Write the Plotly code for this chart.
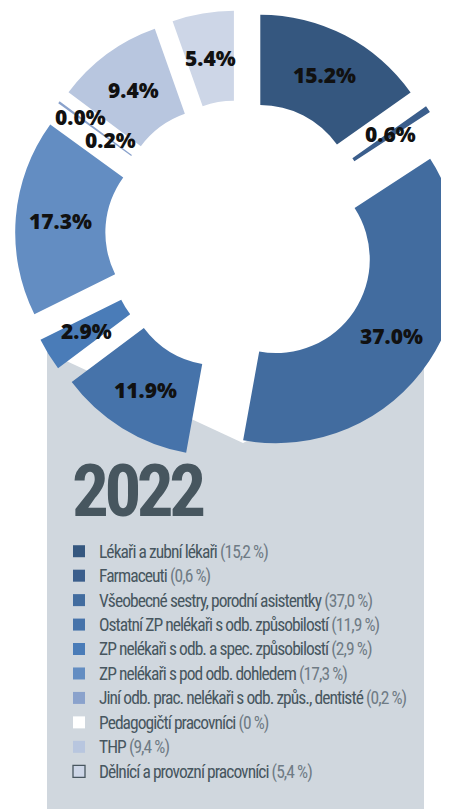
import math
import plotly.graph_objects as go

# ---------------- data ----------------
categories = [
    "Lékaři a zubní lékaři",
    "Farmaceuti",
    "Všeobecné sestry, porodní asistentky",
    "Ostatní ZP nelékaři s odb. způsobilostí",
    "ZP nelékaři s odb. a spec. způsobilostí",
    "ZP nelékaři s pod odb. dohledem",
    "Jiní odb. prac. nelékaři s odb. způs., dentisté",
    "Pedagogičtí pracovníci",
    "THP",
    "Dělnící a provozní pracovníci",
]
shares = [15.2, 0.6, 37.0, 11.9, 2.9, 17.3, 0.2, 0.0, 9.4, 5.4]
year = "2022"

# ---------------- style ----------------
slice_colors = ["#35577f", "#3b5e8c", "#426c9f", "#4673aa", "#4a7cb8",
                "#638dc2", "#8aa2cc", "#ffffff", "#b8c6df", "#cdd6e7"]
legend_line_w = [0, 0, 0, 0, 0, 0, 0, 0, 0, 1.3]
GRAY = "#d0d7de"
DARK = "#47565f"
PCT_GRAY = "#6f7b85"
COND = ("Noto Sans ExtraCondensed, Noto Sans Condensed, Roboto Condensed, "
        "DejaVu Sans Condensed, Noto Sans, sans-serif")
STRETCH = "font-stretch:extra-condensed"
LEG_STYLE = STRETCH + ";font-size:17.5px;letter-spacing:-0.95px"

OFF = 8                     # page body margin (px)
W, H = 466, 809
CX, CY = 241, 236           # pie centre on screen (px)
R = 184                     # outer radius (px)
HOLE = 0.51
PULL = 0.228


def xp(px):                 # screen px -> paper x
    return (px - OFF) / W


def yp(py):                 # screen px -> paper y
    return 1 - (py - OFF) / H


box = 2 * R * (1 + PULL)
dom_x = [xp(CX - box / 2), xp(CX + box / 2)]
dom_y = [yp(CY + box / 2), yp(CY - box / 2)]


def fmt_cz(v):
    return "0" if v == 0 else f"{v:.1f}".replace(".", ",")


labels = [f'<span style="{LEG_STYLE}">{c} </span>'
          f'<span style="{LEG_STYLE};color:{PCT_GRAY}">({fmt_cz(v)} %)</span>'
          for c, v in zip(categories, shares)]

fig = go.Figure()
fig.add_trace(go.Pie(
    labels=labels, values=shares, sort=False, direction="clockwise", rotation=0,
    hole=HOLE, pull=[PULL] * len(shares), textinfo="none",
    marker=dict(colors=slice_colors, line=dict(width=0)),
    domain=dict(x=dom_x, y=dom_y), showlegend=False,
))
# legend provider (same data, microscopic domain) so the light swatch gets an outline
fig.add_trace(go.Pie(
    labels=labels, values=shares, sort=False, direction="clockwise",
    textinfo="none", hoverinfo="skip",
    marker=dict(colors=slice_colors, line=dict(width=legend_line_w, color=DARK)),
    domain=dict(x=[0, 0.0005], y=[0, 0.0005]), showlegend=True,
))

# ---------------- slice labels (positions computed from the data) ----------------
total = sum(shares)
rmid = R * (1 + HOLE) / 2
pull_px = PULL * R
cum = 0.0
pos = []
for v in shares:
    mid = (cum + v / 2) / total * 2 * math.pi
    cum += v
    pos.append(mid)
radial_shift = [0.0] * len(shares)
for i in range(1, len(shares)):
    if abs(pos[i] - pos[i - 1]) < 0.03:
        radial_shift[i - 1] -= 19
        radial_shift[i] += 19
annotations = []
for i, (v, a) in enumerate(zip(shares, pos)):
    rr = pull_px + rmid + radial_shift[i]
    x = CX + rr * math.sin(a)
    y = CY - rr * math.cos(a)
    annotations.append(dict(
        x=xp(x), y=yp(y), xref="paper", yref="paper", showarrow=False,
        text=f"{v:.1f}%", xanchor="center", yanchor="middle",
        font=dict(family="Open Sans", size=21, weight=800, color="#111111"),
    ))

annotations.append(dict(
    x=xp(70), y=yp(491), xref="paper", yref="paper", showarrow=False,
    text=f'<span style="{STRETCH};letter-spacing:-4.5px">{year}</span>',
    xanchor="left", yanchor="middle",
    font=dict(family=COND, size=73, weight=700, color=DARK),
))

# ---------------- background shapes ----------------
wedge = [(40, 348.7), (243, 443), (430, 349), (430, 320), (40, 320)]
wedge_path = "M " + " L ".join(f"{xp(a):.5f},{yp(b):.5f}" for a, b in wedge) + " Z"
shapes = [
    dict(type="rect", xref="paper", yref="paper", x0=xp(47), x1=xp(424), y0=0, y1=yp(330),
         fillcolor=GRAY, line=dict(width=0), layer="below"),
    dict(type="path", xref="paper", yref="paper", path=wedge_path,
         fillcolor="#ffffff", line=dict(width=0), layer="below"),
]

fig.update_layout(
    width=W, height=H, autosize=False,
    margin=dict(l=0, r=0, t=0, b=0),
    paper_bgcolor="#ffffff", plot_bgcolor="#ffffff",
    shapes=shapes, annotations=annotations,
    legend=dict(
        x=xp(59), xanchor="left", y=yp(534), yanchor="top",
        bgcolor="rgba(0,0,0,0)", traceorder="normal",
        font=dict(family=COND, size=16.5, color=DARK),
    ),
)

fig.write_html("out.html")
